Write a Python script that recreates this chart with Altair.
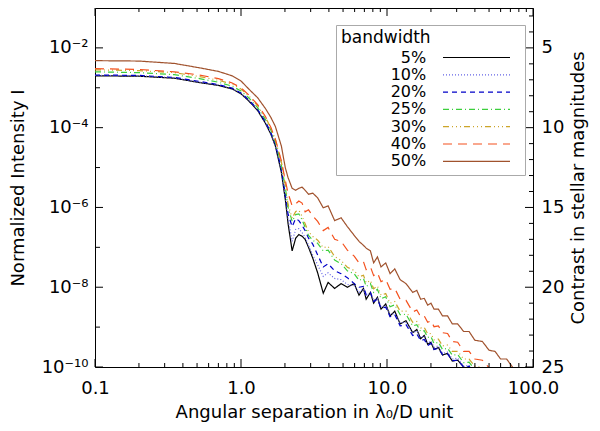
import altair as alt
import pandas as pd


# angular separation in lambda0/D, shared by every curve
SEPARATION = [
    0.1, 0.2, 0.35, 0.52, 0.7, 0.87, 1.0, 1.13, 1.3, 1.47,
    1.6, 1.72, 1.89, 2.01, 2.1, 2.24, 2.37, 2.49, 2.62, 2.75,
    2.9, 3.1, 3.35, 3.66, 3.95, 4.38, 4.85, 5.35, 5.96, 6.43,
    6.9, 7.2, 7.7, 8.1, 8.6, 9.1, 9.8, 10.5, 11.3, 12.3,
    13.5, 15, 16, 17, 18, 19, 20, 21, 22.5, 24,
    26, 28, 30.5, 33.5, 36.5, 40, 45, 50, 55, 60,
    66, 73, 80, 90,
]

# normalized intensity, in decades (log10 I)
LOG_I_05 = [
    -2.70, -2.71, -2.76, -2.87, -2.94, -3.03, -3.15, -3.33, -3.57, -3.89,
    -4.16, -4.46, -5.12, -5.79, -6.40, -7.09, -6.77, -6.68, -6.72, -6.80,
    -7.00, -7.27, -7.64, -8.15, -7.88, -8.03, -7.91, -8.00, -7.91, -8.20,
    -8.03, -8.30, -8.13, -8.40, -8.25, -8.55, -8.42, -8.72, -8.60, -8.92,
    -8.84, -9.14, -9.06, -9.29, -9.21, -9.43, -9.38, -9.56, -9.51, -9.70,
    -9.66, -9.85, -9.83, -10.00, -10.05, -10.20, -10.30, -10.44, -10.54, -10.67,
    -10.74, -10.86, -10.94, -11.06,
]
LOG_I_10 = [
    -2.69, -2.70, -2.75, -2.86, -2.93, -3.02, -3.14, -3.32, -3.56, -3.87,
    -4.14, -4.44, -5.09, -5.73, -6.28, -6.85, -6.55, -6.53, -6.63, -6.75,
    -6.95, -7.19, -7.44, -7.73, -7.64, -7.78, -7.81, -7.93, -7.96, -8.13,
    -8.04, -8.21, -8.14, -8.33, -8.28, -8.49, -8.46, -8.68, -8.66, -8.89,
    -8.88, -9.14, -9.09, -9.26, -9.22, -9.40, -9.35, -9.51, -9.47, -9.66,
    -9.63, -9.80, -9.78, -9.98, -9.96, -10.17, -10.20, -10.39, -10.49, -10.59,
    -10.67, -10.79, -10.86, -10.99,
]
LOG_I_20 = [
    -2.68, -2.69, -2.74, -2.84, -2.92, -3.01, -3.13, -3.30, -3.54, -3.85,
    -4.12, -4.41, -5.04, -5.66, -6.16, -6.48, -6.28, -6.33, -6.45, -6.58,
    -6.77, -6.92, -7.19, -7.49, -7.41, -7.59, -7.66, -7.76, -7.91, -8.00,
    -7.98, -8.19, -8.13, -8.36, -8.30, -8.53, -8.50, -8.74, -8.69, -8.97,
    -8.94, -9.21, -9.17, -9.34, -9.31, -9.46, -9.41, -9.56, -9.53, -9.69,
    -9.67, -9.84, -9.83, -10.00, -9.98, -10.16, -10.17, -10.37, -10.36, -10.54,
    -10.53, -10.71, -10.70, -10.91,
]
LOG_I_25 = [
    -2.60, -2.62, -2.67, -2.77, -2.86, -2.96, -3.08, -3.25, -3.50, -3.79,
    -4.06, -4.36, -4.93, -5.49, -5.99, -6.35, -6.18, -6.16, -6.31, -6.50,
    -6.70, -6.82, -6.90, -7.09, -7.07, -7.32, -7.41, -7.59, -7.66, -7.83,
    -7.78, -7.98, -7.91, -8.13, -8.05, -8.29, -8.24, -8.49, -8.44, -8.69,
    -8.68, -8.97, -8.94, -9.11, -9.09, -9.26, -9.24, -9.41, -9.38, -9.56,
    -9.53, -9.70, -9.69, -9.89, -9.88, -10.07, -10.09, -10.28, -10.27, -10.46,
    -10.44, -10.64, -10.63, -10.84,
]
LOG_I_30 = [
    -2.55, -2.57, -2.62, -2.72, -2.81, -2.91, -3.03, -3.20, -3.45, -3.74,
    -4.00, -4.30, -4.86, -5.42, -5.92, -6.27, -6.10, -6.07, -6.22, -6.41,
    -6.61, -6.73, -6.82, -7.01, -6.98, -7.23, -7.33, -7.50, -7.58, -7.74,
    -7.70, -7.89, -7.83, -8.04, -7.97, -8.20, -8.16, -8.40, -8.36, -8.60,
    -8.60, -8.88, -8.86, -9.02, -9.01, -9.17, -9.16, -9.32, -9.30, -9.47,
    -9.45, -9.61, -9.61, -9.80, -9.80, -9.98, -10.01, -10.19, -10.19, -10.37,
    -10.36, -10.55, -10.55, -10.75,
]
LOG_I_40 = [
    -2.52, -2.54, -2.60, -2.68, -2.77, -2.88, -3.00, -3.18, -3.42, -3.72,
    -3.99, -4.29, -4.83, -5.32, -5.64, -5.96, -5.91, -5.84, -5.89, -6.11,
    -6.06, -6.21, -6.35, -6.58, -6.50, -6.80, -6.85, -7.07, -7.22, -7.39,
    -7.36, -7.56, -7.49, -7.71, -7.64, -7.86, -7.81, -8.05, -8.03, -8.30,
    -8.33, -8.62, -8.57, -8.74, -8.72, -8.88, -8.84, -8.99, -8.97, -9.14,
    -9.16, -9.36, -9.38, -9.61, -9.61, -9.80, -9.83, -10.02, -10.07, -10.17,
    -10.27, -10.37, -10.47, -10.59,
]
LOG_I_50 = [
    -2.32, -2.33, -2.39, -2.50, -2.59, -2.70, -2.83, -3.03, -3.25, -3.52,
    -3.74, -3.97, -4.46, -5.00, -5.25, -5.52, -5.57, -5.52, -5.49, -5.57,
    -5.67, -5.64, -5.76, -6.01, -5.96, -6.33, -6.26, -6.48, -6.70, -6.85,
    -6.95, -7.02, -7.09, -7.39, -7.24, -7.49, -7.39, -7.66, -7.54, -7.81,
    -7.91, -8.13, -8.08, -8.30, -8.28, -8.45, -8.40, -8.55, -8.55, -8.72,
    -8.72, -8.92, -8.92, -9.11, -9.11, -9.33, -9.36, -9.58, -9.61, -9.80,
    -9.80, -10.02, -10.05, -10.25,
]

BANDWIDTHS = ['5%', '10%', '20%', '25%', '30%', '40%', '50%']
COLORS = ['#000000', '#6464e6', '#0000c8', '#3ccf3c', '#cca52a', '#f4511e', '#a0522d']
DASHES = [[1, 0], [1, 2], [5, 4], [6, 3, 1, 3], [6, 3, 1, 3, 1, 3, 1, 3], [9, 6], [1, 0]]

X_MAJOR = [0.1, 1, 10, 100]
X_MINOR = [0.2, 0.3, 0.4, 0.5, 0.6, 0.7, 0.8, 0.9,
           2, 3, 4, 5, 6, 7, 8, 9,
           20, 30, 40, 50, 60, 70, 80, 90]
Y_MAJOR = [1e-10, 1e-8, 1e-6, 1e-4, 1e-2]
Y_LABELS = ['10⁻¹⁰', '10⁻⁸', '10⁻⁶', '10⁻⁴', '10⁻²']
Y_MINOR = [1e-9, 1e-7, 1e-5, 1e-3]
MAG_MAJOR = [5, 10, 15, 20, 25]
MAG_MINOR = [3, 4, 6, 7, 8, 9, 11, 12, 13, 14, 16, 17, 18, 19, 21, 22, 23, 24]

W, H = 438, 359
FONT = 'DejaVu Sans'

rows = []
for bw, logs in zip(BANDWIDTHS, [LOG_I_05, LOG_I_10, LOG_I_20, LOG_I_25,
                                 LOG_I_30, LOG_I_40, LOG_I_50]):
    for sep, v in zip(SEPARATION, logs):
        rows.append({'sep': sep, 'I': 10 ** v, 'bw': bw})
curves = pd.DataFrame(rows)

x_scale = alt.Scale(type='log', domain=[0.1, 100], nice=False)
y_scale = alt.Scale(type='log', domain=[1e-10, 1e-1], nice=False)
mag_scale = alt.Scale(domain=[2.5, 25], reverse=True, nice=False, zero=False)

# superscript decade labels on the left axis
y_label_expr = ' : '.join(
    f"datum.value < {v * 3:g} ? '{t}'" for v, t in zip(Y_MAJOR, Y_LABELS)
) + " : ''"

# one axis object per scale, reused by every layer drawn on that scale
x_axis = alt.Axis(
    values=X_MAJOR, labelExpr="format(datum.value, '.1f')",
    title='Angular separation in λ₀/D unit', ticks=False, domain=False,
    grid=False, labelFlush=False, labelOverlap=False,
    labelPadding=12, titlePadding=6)
y_axis = alt.Axis(
    values=Y_MAJOR, labelExpr=y_label_expr, title='Normalized Intensity I',
    ticks=False, domain=False, grid=False, labelFlush=False,
    labelOverlap=False, labelPadding=7, titlePadding=14)
mag_axis = alt.Axis(
    orient='right', values=MAG_MAJOR, title='Contrast in stellar magnitudes',
    ticks=False, domain=False, grid=False, labelFlush=False,
    labelOverlap=False, labelPadding=8, titlePadding=6,
    titleAngle=270, titleBaseline='top')

# labels sit left of the line samples, as in the original legend: a run of
# blank (non-space) glyphs pushes each label's right end past its sample
label_tail = '\u2800' * 8
legend = alt.Legend(
    title='bandwidth', orient='none', legendX=241, legendY=17,
    symbolType='stroke', symbolSize=4489, symbolStrokeWidth=1.2,
    symbolOffset=101, clipHeight=15, rowPadding=0.3,
    labelAlign='right', labelOffset=9, labelFontSize=16, labelLimit=1000,
    labelExpr=f"datum.label + '{label_tail}'",
    labelFont=FONT, titleFont=FONT, titleFontSize=17, titleFontWeight='normal',
    titleAnchor='start', titlePadding=3, padding=5,
    strokeColor='#aaaaaa', fillColor='white',
)

lines = alt.Chart(curves).mark_line(clip=True, strokeWidth=1.2).encode(
    x=alt.X('sep:Q', scale=x_scale, axis=x_axis),
    y=alt.Y('I:Q', scale=y_scale, axis=y_axis),
    color=alt.Color('bw:N', scale=alt.Scale(domain=BANDWIDTHS, range=COLORS),
                    legend=legend),
    strokeDash=alt.StrokeDash('bw:N', scale=alt.Scale(domain=BANDWIDTHS, range=DASHES),
                              legend=legend),
)


def x_ticks(values, length):
    df = pd.DataFrame({'v': values})
    base = alt.Chart(df).mark_rule(color='black', strokeWidth=1)
    bottom = base.encode(x=alt.X('v:Q', scale=x_scale, axis=x_axis),
                         y=alt.value(H), y2=alt.value(H - length))
    top = base.encode(x=alt.X('v:Q', scale=x_scale, axis=x_axis),
                      y=alt.value(0), y2=alt.value(length))
    return bottom + top


def y_ticks(values, length):
    df = pd.DataFrame({'v': values})
    return alt.Chart(df).mark_rule(color='black', strokeWidth=1).encode(
        y=alt.Y('v:Q', scale=y_scale, axis=y_axis),
        x=alt.value(0), x2=alt.value(length))


def mag_ticks(values, length):
    df = pd.DataFrame({'m': values})
    return alt.Chart(df).mark_rule(color='black', strokeWidth=1).encode(
        y=alt.Y('m:Q', scale=mag_scale, axis=mag_axis),
        x=alt.value(W), x2=alt.value(W - length))


main = alt.layer(
    lines,
    x_ticks(X_MAJOR, 8), x_ticks(X_MINOR, 4),
    y_ticks(Y_MAJOR, 8), y_ticks(Y_MINOR, 5),
)

# right axis: contrast in stellar magnitudes
mag = alt.layer(mag_ticks(MAG_MAJOR, 8), mag_ticks(MAG_MINOR, 4))

chart = alt.layer(main, mag).resolve_scale(y='independent').properties(
    width=W, height=H,
    autosize=alt.AutoSizeParams(type='none'),
    padding={'left': 87, 'right': 59, 'top': 0, 'bottom': 56},
).configure(font=FONT).configure_view(
    stroke='black', strokeWidth=1
).configure_axis(
    labelFont=FONT, titleFont=FONT, labelFontSize=18, titleFontSize=18,
    labelColor='black', titleColor='black', titleFontWeight='normal'
)

chart.save('out.html', embed_options={'renderer': 'svg', 'actions': False})
